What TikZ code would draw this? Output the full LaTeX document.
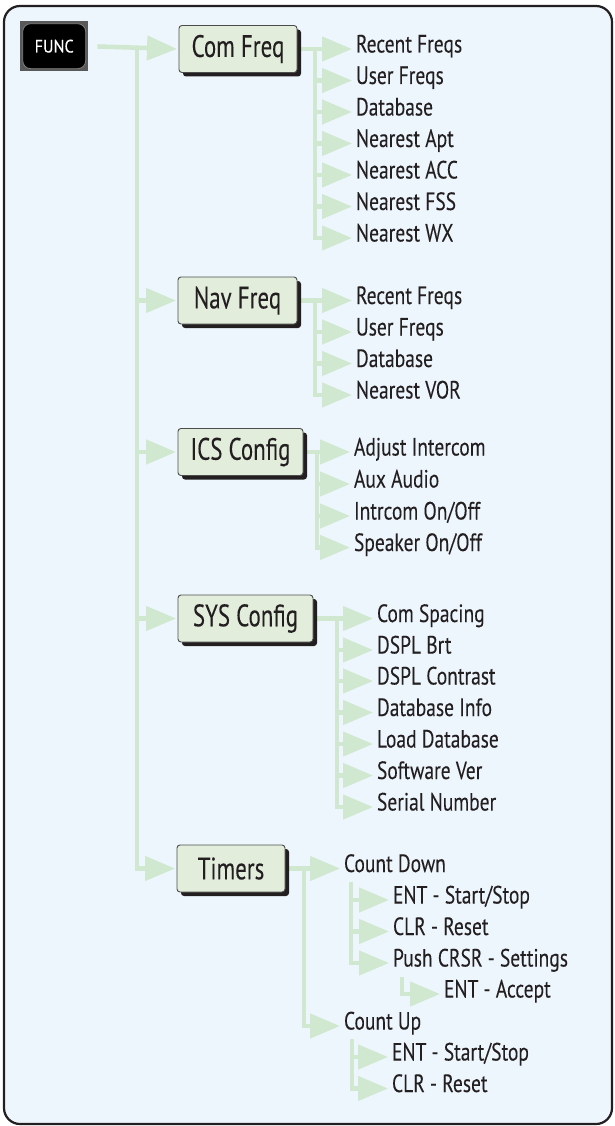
\documentclass[tikz,border=0pt]{standalone}
\usepackage{fontspec}
\setmainfont{PT Sans}[FakeStretch=0.78,FakeBold=0.07]
\newfontfamily\boxfont{PT Sans}[FakeStretch=0.74,FakeBold=0.07]
\newfontfamily\btnfont{PT Sans}[FakeStretch=0.9,FakeBold=0.3]
\usetikzlibrary{arrows.meta,shadows,calc}
\definecolor{bgblue}{HTML}{EEF6FD}
\definecolor{lineg}{HTML}{CFE8CF}
\definecolor{boxfill}{HTML}{E2EDDC}
\definecolor{txt}{HTML}{231F20}
\definecolor{frameC}{HTML}{231F20}
\pgfdeclarelayer{bg}
\pgfsetlayers{bg,main}
\tikzset{
  conn/.style={draw=lineg, line width=4.5pt, line join=miter,
    -{Triangle[length=30pt 0 0,width=24pt 0 0]}},
  menubox/.style={draw=black!70, line width=0.9pt, fill=boxfill, rounded corners=3pt,
    minimum height=47pt, inner sep=0pt, outer sep=0pt, anchor=west, text=txt,
    font=\boxfont\fontsize{31}{33}\selectfont,
    drop shadow={shadow xshift=4pt, shadow yshift=-4pt, fill=txt, opacity=1}},
  item/.style={anchor=west, inner sep=0pt, outer xsep=4pt, outer ysep=0pt,
    text=txt, font=\fontsize{25}{27}\selectfont, text height=0.7em, text depth=0pt},
}
\begin{document}
\begin{tikzpicture}[x=1pt,y=-1pt]
\useasboundingbox (0,0) rectangle (614,1126);
% FUNC button
\node[fill=black!65, minimum width=68pt, minimum height=50pt, inner sep=0pt, anchor=north west] (func) at (20,21) {};
\node[fill=black, draw=black!50, line width=0.8pt, rounded corners=8pt, minimum width=63pt, minimum height=45pt, inner sep=0pt, text=white, font=\btnfont\fontsize{18}{18}\selectfont] (funcb) at (func.center) {FUNC};
% level-1 boxes
\node[menubox, minimum width=118pt] (cf) at (179,49) {Com Freq};
\node[menubox, minimum width=119pt] (nf) at (178,300.5) {Nav Freq};
\node[menubox, minimum width=125pt] (ics) at (178,452) {ICS Config};
\node[menubox, minimum width=135pt] (sys) at (178,618.5) {SYS Config};
\node[menubox, minimum width=108pt] (tim) at (177,868.5) {Timers};
% Com Freq items
\node[item] (c1) at (352,49) {Recent Freqs};
\node[item] (c2) at (352,80.5) {User Freqs};
\node[item] (c3) at (352,112) {Database};
\node[item] (c4) at (352,143.5) {Nearest Apt};
\node[item] (c5) at (352,175) {Nearest ACC};
\node[item] (c6) at (352,206.5) {Nearest FSS};
\node[item] (c7) at (352,238) {Nearest WX};
% Nav Freq items
\node[item] (n1) at (352,300.5) {Recent Freqs};
\node[item] (n2) at (352,332) {User Freqs};
\node[item] (n3) at (352,363.5) {Database};
\node[item] (n4) at (352,395) {Nearest VOR};
% ICS items
\node[item] (i1) at (350,452) {Adjust Intercom};
\node[item] (i2) at (350,484) {Aux Audio};
\node[item] (i3) at (350,516) {Intrcom On/Off};
\node[item] (i4) at (350,547.5) {Speaker On/Off};
% SYS items
\node[item] (s1) at (373,618.5) {Com Spacing};
\node[item] (s2) at (373,650) {DSPL Brt};
\node[item] (s3) at (373,681) {DSPL Contrast};
\node[item] (s4) at (373,712.5) {Database Info};
\node[item] (s5) at (373,744) {Load Database};
\node[item] (s6) at (373,775.5) {Software Ver};
\node[item] (s7) at (373,807) {Serial Number};
% Timers items
\node[item] (cd) at (340,868.5) {Count Down};
\node[item] (cd1) at (389,900) {ENT - Start/Stop};
\node[item] (cd2) at (389,931.5) {CLR - Reset};
\node[item] (cd3) at (389,963) {Push CRSR - Settings};
\node[item] (cd31) at (440,994) {ENT - Accept};
\node[item] (cu) at (340,1026) {Count Up};
\node[item] (cu1) at (388,1057) {ENT - Start/Stop};
\node[item] (cu2) at (388,1088.5) {CLR - Reset};
% trunk coordinates
\coordinate (trk) at (137,49);
\coordinate (cfv) at (315,49);
\coordinate (nfv) at (315,300.5);
\coordinate (icv) at (317,452);
\coordinate (syv) at (337,618.5);
\coordinate (tmv) at (304,868.5);
\coordinate (cdv) at (351,882);
\coordinate (pcv) at (402,977);
\coordinate (cuv) at (352,1039);
\begin{pgfonlayer}{bg}
\draw[rounded corners=16pt, line width=2.2pt, draw=frameC, fill=bgblue] (4,6) rectangle (612,1124);
% main trunk
\draw[conn, shorten <=9pt, shorten >=2pt] (func.east) -- (cf.west);
\foreach \b in {nf,ics,sys,tim}
  \draw[conn, shorten >=2pt] (trk) |- (\b.west);
% Com Freq
\draw[conn] (cf.east) -- (c1.west);
\foreach \c in {c2,c3,c4,c5,c6,c7} \draw[conn] (cfv) |- (\c.west);
% Nav Freq
\draw[conn] (nf.east) -- (n1.west);
\foreach \c in {n2,n3,n4} \draw[conn] (nfv) |- (\c.west);
% ICS
\draw[conn] (ics.east) -- (i1.west);
\foreach \c in {i2,i3,i4} \draw[conn] (icv) |- (\c.west);
% SYS
\draw[conn] (sys.east) -- (s1.west);
\foreach \c in {s2,s3,s4,s5,s6,s7} \draw[conn] (syv) |- (\c.west);
% Timers
\draw[conn] (tim.east) -- (cd.west);
\draw[conn] (tmv) |- (cu.west);
\foreach \c in {cd1,cd2,cd3} \draw[conn] (cdv) |- (\c.west);
\draw[conn] (pcv) |- (cd31.west);
\foreach \c in {cu1,cu2} \draw[conn] (cuv) |- (\c.west);
\end{pgfonlayer}
\end{tikzpicture}
\end{document}
